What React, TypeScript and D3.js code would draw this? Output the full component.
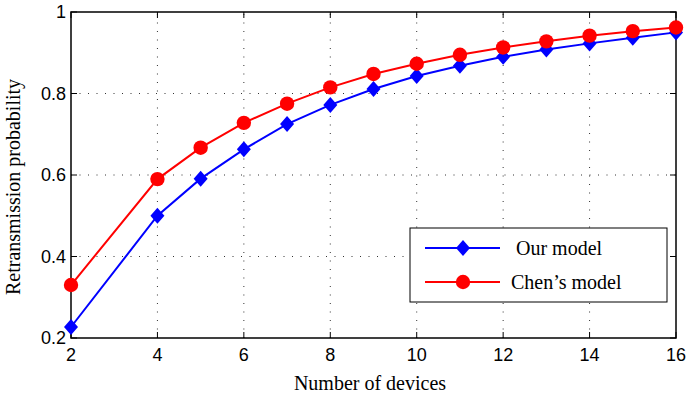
import React from "react";
import * as d3 from "d3";

const devices = [2, 4, 5, 6, 7, 8, 9, 10, 11, 12, 13, 14, 15, 16];
const ourModel = [0.227, 0.5, 0.591, 0.663, 0.725, 0.772, 0.811, 0.843, 0.868, 0.89, 0.908, 0.923, 0.937, 0.95];
const chenModel = [0.33, 0.59, 0.667, 0.728, 0.775, 0.815, 0.848, 0.873, 0.895, 0.913, 0.928, 0.942, 0.953, 0.962];
const xTicks = [2, 4, 6, 8, 10, 12, 14, 16];
const yTicks = [0.2, 0.4, 0.6, 0.8, 1];
const seriesNames = ["Our model", "Chen\u2019s model"];

const W = 689;
const H = 398;
const m = { left: 71, right: 13, top: 12, bottom: 60 };

export default function App() {
  const x = d3.scaleLinear().domain([2, 16]).range([m.left, W - m.right]);
  const y = d3.scaleLinear().domain([0.2, 1]).range([H - m.bottom, m.top]);
  const line = d3
    .line<[number, number]>()
    .x((d) => x(d[0]))
    .y((d) => y(d[1]));
  const ourPts = devices.map((d, i) => [d, ourModel[i]] as [number, number]);
  const chenPts = devices.map((d, i) => [d, chenModel[i]] as [number, number]);
  const x0 = x(2), x1 = x(16), y0 = y(0.2), y1 = y(1);
  const sans = "Liberation Sans, Arial, sans-serif";
  const serif = "Liberation Serif, Times New Roman, serif";
  const diamond = (cx: number, cy: number, rx: number, ry: number) =>
    `M${cx},${cy - ry}L${cx + rx},${cy}L${cx},${cy + ry}L${cx - rx},${cy}Z`;

  const lg = { x: 410, y: 228, w: 257, h: 74 };

  return (
    <svg width={W} height={H} style={{ position: "absolute", left: 0, top: 0, background: "#fff" }}>
      {/* grid */}
      {xTicks.slice(1, -1).map((t) => (
        <line key={"gx" + t} x1={x(t)} x2={x(t)} y1={y0} y2={y1} stroke="#333" strokeWidth={1} strokeDasharray="1,7.5" />
      ))}
      {yTicks.slice(1, -1).map((t) => (
        <line key={"gy" + t} x1={x0} x2={x1} y1={y(t)} y2={y(t)} stroke="#333" strokeWidth={1} strokeDasharray="1,7.5" />
      ))}
      {/* ticks on all sides */}
      {xTicks.map((t) => (
        <g key={"tx" + t}>
          <line x1={x(t)} x2={x(t)} y1={y0} y2={y0 - 6} stroke="#000" />
          <line x1={x(t)} x2={x(t)} y1={y1} y2={y1 + 6} stroke="#000" />
          <text x={x(t)} y={y0 + 23} textAnchor="middle" fontFamily={sans} fontSize={18}>{t}</text>
        </g>
      ))}
      {yTicks.map((t) => (
        <g key={"ty" + t}>
          <line x1={x0} x2={x0 + 6} y1={y(t)} y2={y(t)} stroke="#000" />
          <line x1={x1} x2={x1 - 6} y1={y(t)} y2={y(t)} stroke="#000" />
          <text x={x0 - 5} y={y(t) + 6} textAnchor="end" fontFamily={sans} fontSize={18}>{t}</text>
        </g>
      ))}
      <rect x={x0} y={y1} width={x1 - x0} height={y0 - y1} fill="none" stroke="#000" strokeWidth={1.5} />
      {/* series */}
      <path d={line(chenPts) || ""} fill="none" stroke="#ff0000" strokeWidth={2} />
      <path d={line(ourPts) || ""} fill="none" stroke="#0000ff" strokeWidth={2} />
      {ourPts.map((p, i) => (
        <path key={"o" + i} d={diamond(x(p[0]), y(p[1]), 7, 8)} fill="#0000ff" />
      ))}
      {chenPts.map((p, i) => (
        <circle key={"c" + i} cx={x(p[0])} cy={y(p[1])} r={7.2} fill="#ff0000" />
      ))}
      {/* legend */}
      <rect x={lg.x} y={lg.y} width={lg.w} height={lg.h} fill="#fff" stroke="#000" strokeWidth={1} />
      <line x1={425} x2={500} y1={248} y2={248} stroke="#0000ff" strokeWidth={2} />
      <path d={diamond(463, 248, 7, 8)} fill="#0000ff" />
      <text x={516} y={255} fontFamily={serif} fontSize={20}>{seriesNames[0]}</text>
      <line x1={425} x2={500} y1={282} y2={282} stroke="#ff0000" strokeWidth={2} />
      <circle cx={463} cy={282} r={7.2} fill="#ff0000" />
      <text x={511} y={289} fontFamily={serif} fontSize={20}>{seriesNames[1]}</text>
      {/* axis titles */}
      <text x={370} y={390} textAnchor="middle" fontFamily={serif} fontSize={20}>Number of devices</text>
      <text transform={`translate(20,187) rotate(-90)`} textAnchor="middle" fontFamily={serif} fontSize={20}>
        Retransmission probability
      </text>
    </svg>
  );
}
